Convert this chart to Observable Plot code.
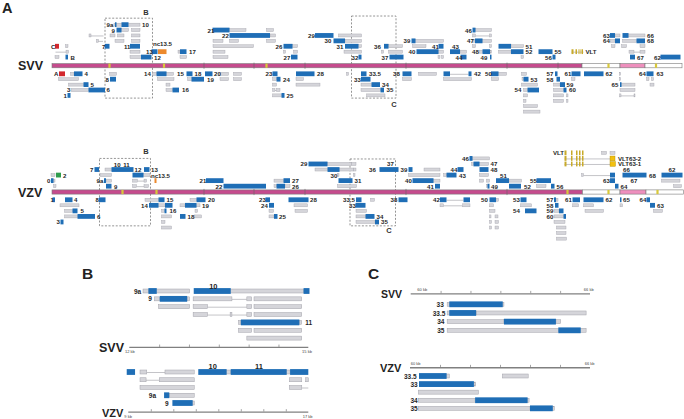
<!DOCTYPE html>
<html><head><meta charset="utf-8">
<script src="https://cdn.jsdelivr.net/npm/d3@7"></script>
<script src="https://cdn.jsdelivr.net/npm/@observablehq/plot@0.6"></script>
<style>
body{margin:0;background:#fff;font-family:"Liberation Sans",Arial,Helvetica,sans-serif;}
#wrap{position:relative;width:684px;height:419px;overflow:hidden;background:#fff;}
#wrap svg{position:absolute;left:0;top:0;background:transparent;}
.t{position:absolute;font-weight:bold;color:#222;line-height:1;transform:translateY(-50%);white-space:nowrap;}
</style></head><body>
<div id="wrap">
<div class="t" style="left:2px;top:8px;font-size:14.5px">A</div>
<div class="t" style="left:18px;top:66px;font-size:12.5px">SVV</div>
<div class="t" style="left:18px;top:192.5px;font-size:12.5px">VZV</div>
<div class="t" style="left:82px;top:274px;font-size:15.5px">B</div>
<div class="t" style="left:368px;top:274px;font-size:15.5px">C</div>
<div class="t" style="left:99px;top:347.5px;font-size:12.5px">SVV</div>
<div class="t" style="left:102px;top:412.5px;font-size:11px">VZV</div>
<div class="t" style="left:381px;top:294px;font-size:10.5px">SVV</div>
<div class="t" style="left:380px;top:367.5px;font-size:11px">VZV</div>
</div>
<script>
// ================= DATA (kb positions, lanes: + above genome, - below) =================
// ---- Panel A : SVV ----
const svvSegments = [[0,106,"U"],[106,113.6,"R"],[113.6,118.6,"I"],[118.6,126,"R"]];
const svvMarks = [11.5,22.4,42.9,111.3,120.8];
const svvTicks = [30.3,40.3,50.5,70.7,90.9,101.1];
const svvBoxes = [[10.6,20.1,8.2,-5.5,"B",18.7,9.3],[59.9,68.8,8.6,-5.5,"C",68.3,-6.6]];
const svvCds = [
 [12.6,12.9,7],[13.9,15.3,7],
 [12.9,13.9,6],[32.1,35.5,6],[84.1,84.7,6],
 [35.5,43.6,5],[52.6,56.3,5],[111.6,112.6,5],[114.1,115.3,5],
 [56.3,58.6,4],[71.9,72.7,4],[84.6,86.1,4],[112.6,113.6,4],[116.9,118.6,4],
 [10.6,11.5,3],[15.6,17.6,3],[46.3,48.1,3],[58.6,61.3,3],[66.4,67.3,3],[77.3,78.3,3],[89.3,91.8,3],
 [19.9,21.1,2],[25.6,26.9,2],[72.9,77.3,2],[79.6,81.6,2],[86.1,87.6,2],[91.8,94.3,2],[97.3,100.1,2],
 [2.7,3.2,1],[17.8,19.9,1],[47.8,49.1,1],[61.3,61.9,1],[67.5,70.3,1],[81.7,82.9,1],[87.6,87.9,1],[100.1,100.7,1],[115.6,116.6,1],[121.7,125.7,1],
 [4.4,6.1,-1],[20.9,22.9,-1],[26.9,28.1,-1],[30.6,32.1,-1],[44.1,45.1,-1],[48.8,52.5,-1],[61.8,62.9,-1],[70.1,71.9,-1],[78.3,79.6,-1],[83.3,83.9,-1],[87.8,89.3,-1],[100.6,101.1,-1],[103.9,105.7,-1],[106.4,110.3,-1],[118.9,120.3,-1],
 [11.6,12.8,-2],[27.9,30.4,-2],[44.9,45.7,-2],[61.8,63.7,-2],[94.3,95.3,-2],[100.9,101.6,-2],
 [6.3,7.3,-3],[63.9,65.6,-3],[101.6,102.6,-3],[113.6,113.9,-3],
 [7.3,10.6,-4],[24.1,25.4,-4],[65.7,66.4,-4],[95.1,97.4,-4],[102.3,102.9,-4],
 [3.1,3.7,-5],[45.9,46.5,-5]
];
const svvTx = [
 [12.4,17.6,7],
 [13.9,15.3,6],[15.9,17.6,6],[35.5,38.8,6],[42.9,44.3,6],[84.7,87.9,6],
 [7.4,7.8,5],[11.6,12.6,5],[13.1,14.4,5],[15.9,17.6,5],[43.6,44.7,5],[57.3,61.9,5],[84.1,84.7,5],[87.5,87.9,5],[112.6,113.6,5],[115.3,118.6,5],
 [8.9,9.3,4],[12.6,14.4,4],[15.9,17.6,4],[32.2,34.2,4],[35.5,37.3,4],[42.9,44.7,4],[58.6,61.9,4],[72.7,78.3,4],[84.1,84.6,4],[86.1,87.9,4],[111.6,112.6,4],[114.1,116.9,4],
 [2.7,3.2,3],[32.2,40.3,3],[48.1,49.1,3],[61.3,61.9,3],[67.3,70.1,3],[72.1,74.8,3],[84.1,84.7,3],[87.5,87.9,3],[91.8,94.3,3],[111.9,112.6,3],[113.9,114.9,3],[117.6,118.6,3],
 [2.8,3.3,2],[15.6,17.6,2],[25.2,25.6,2],[32.2,34.6,2],[46.3,46.7,2],[48.3,49.1,2],[58.4,61.9,2],[65.9,66.3,2],[67.3,70.1,2],[77.3,78.3,2],[81.6,82.9,2],[85.4,86.1,2],[87.6,87.9,2],[89.3,91.8,2],[115.4,116.4,2],[117.6,118.6,2],
 [0.6,1.4,1],[15.6,17.9,1],[25.6,26.9,1],[32.2,35.2,1],[77.2,77.6,1],[77.9,78.3,1],[93.8,94.3,1],
 [3.7,4.4,-1],[11.5,12.9,-1],[20.1,20.9,-1],[22.9,24.3,-1],[33.6,35.3,-1],[36.3,37.9,-1],[58.9,59.3,-1],[73.3,76.9,-1],[89.3,90.9,-1],[93.9,94.9,-1],[113.5,113.7,-1],
 [1.3,5.3,-2],[21.1,24.4,-2],[27.1,28.1,-2],[33.6,35.3,-2],[36.3,37.9,-2],[44.1,44.9,-2],[48.8,50.3,-2],[70.1,71.9,-2],[78.3,83.9,-2],[87.9,89.3,-2],[94.0,94.3,-2],[103.9,104.6,-2],[113.5,113.7,-2],[118.9,119.4,-2],[119.9,120.3,-2],
 [3.3,6.3,-3],[22.8,23.6,-3],[44.1,44.9,-3],[48.8,53.6,-3],[61.8,63.9,-3],[93.9,97.1,-3],[100.3,101.6,-3],[113.9,116.6,-3],[119.6,120.4,-3],
 [3.8,7.3,-4],[22.8,24.1,-4],[44.1,44.6,-4],[44.9,45.6,-4],[61.8,65.7,-4],[94.3,95.1,-4],[100.3,102.3,-4],[113.6,116.6,-4],
 [44.1,45.9,-5],[62.9,66.6,-5],[94.3,95.1,-5],[100.3,102.3,-5],[102.9,103.2,-5],[113.5,113.8,-5],[116.4,116.6,-5],
 [94.3,94.8,-6],[100.3,102.3,-6],[102.9,103.2,-6],
 [94.3,97.1,-7],
 [94.3,97.6,-8]
];
const svvIntrons = [[7.4,10.3,5],[8.9,10.2,4],[0.7,2.8,2],[79.6,83.3,-1],[44.6,44.9,-4],[113.8,116.4,-5],[84.7,87.5,5],[103.9,106.3,2],[116.4,117.6,2]];
const svvSpecial = [[0.6,1.4,3,"ABC"],[1.4,2.6,-1,"ABC"],[21.2,22.9,2,"NC"],
 [103.9,104.3,2,"VLT"],[104.7,105.0,2,"VLT"],[105.3,105.5,2,"VLT"],[105.7,105.9,2,"VLT"],[106.0,106.2,2,"VLT"]];
const svvLabels = [
 ["9a",10.8,7],["10",17.9,7],
 ["9",11.8,6],["21",31.0,6],["46",82.5,6],
 ["22",33.9,5],["29",51.1,5],["63",110.1,5],["66",118.9,5],
 ["30",54.4,4],["39",70.2,4],["47",82.9,4],["64",110.1,4],["68",118.9,4],
 ["nc13.5",20.1,3.55],
 ["C",-0.3,3],["7",9.9,3],["11",14.3,3],["26",44.6,3],["31",56.8,3],["36",64.3,3],["41",75.9,3],["43",79.9,3],["51",94.6,3],
 ["13",18.7,2],["17",27.3,2],["40",71.2,2],["48",83.9,2],["52",94.6,2],["55",100.4,2],["VLT",106.6,2],
 ["B",3.6,1],["12",20.3,1],["27",46.2,1],["32",59.8,1],["37",65.8,1],["44",80.6,1],["49",85.6,1],["56",98.5,1],["67",116.9,1],["62",120.3,1],
 ["A",0.3,-1],["4",6.4,-1],["14",18.3,-1],["15",24.9,-1],["18",28.4,-1],["20",32.3,-1],["23",42.6,-1],["28",52.9,-1],["33.5",63.3,-1],["38",68.1,-1],["42",84.3,-1],["50",86.5,-1],["57",98.8,-1],["61",102.4,-1],["62",110.6,-1],["64",117.3,-1],["63",120.8,-1],
 ["8",10.6,-2],["19",30.9,-2],["24",46.1,-2],["33",60.3,-2],["53",95.6,-2],["58",98.8,-2],
 ["5",7.6,-3],["34",65.9,-3],["59",102.8,-3],["65",111.8,-3],
 ["3",2.9,-4],["6",10.8,-4],["16",25.9,-4],["35",66.8,-4],["54",92.4,-4],["60",103.3,-4],
 ["1",2.2,-5],["25",46.8,-5]
];

// ---- Panel A : VZV ----
const vzvSegments = [[0,106.1,"U"],[106.1,113.6,"R"],[113.6,118.8,"I"],[118.8,126.3,"R"]];
const vzvMarks = [14.1,20.9,103.1,111.3,121.1];
const vzvTicks = [30.3,40.3,50.5,70.7,90.9];
const vzvBoxes = [[9.5,19.7,6.0,-5.7,"B",18.7,7.35],[59.6,68.7,5.9,-5.7,"C",67.3,-6.45]];
const vzvCds = [
 [83.5,84.1,6],
 [51.3,55.1,5],[84.3,85.5,5],
 [8.5,9.4,4],[11.9,16.3,4],[18.4,19.5,4],[55.1,57.5,4],[65.5,69.3,4],[71.3,72.1,4],[81.1,82.3,4],[85.5,87.3,4],
 [16.1,18.3,3],[78.9,80.9,3],[111.6,112.6,3],[114.1,118.9,3],[121.9,126.1,3],
 [-0.2,0.3,2],[10.4,10.8,2],[30.8,34.3,2],[46.3,47.6,2],[57.3,60.1,2],[72.1,76.3,2],[88.8,91.4,2],[96.9,99.8,2],[111.6,112.6,2],
 [10.8,11.9,1],[34.3,42.8,1],[44.9,46.6,1],[76.6,77.6,1],[87.1,87.5,1],[91.4,93.8,1],[99.8,100.5,1],[112.6,113.3,1],
 [0.1,0.6,-1],[2.6,4.1,-1],[9.4,10.7,-1],[21.3,22.5,-1],[28.9,30.7,-1],[42.7,43.6,-1],[47.3,51.3,-1],[60.8,61.9,-1],[69.3,71.1,-1],[77.6,78.9,-1],[82.3,83.6,-1],[87.5,88.8,-1],[93.7,94.9,-1],[100.4,100.8,-1],[104.1,105.6,-1],[106.3,110.3,-1],[113.6,113.9,-1],[118.9,119.6,-1],
 [19.4,21.3,-2],[22.6,24.1,-2],[26.6,28.9,-2],[43.4,44.4,-2],[60.7,62.7,-2],[100.6,101.3,-2],[119.6,120.6,-2],
 [4.1,5.1,-3],[22.5,22.9,-3],[94.6,96.9,-3],[101.4,102.3,-3],
 [5.1,8.6,-4],[25.6,26.7,-4],[44.4,45.1,-4],[62.7,64.5,-4],[102.3,102.8,-4],
 [1.7,2.3,-5],[64.6,65.4,-5]
];
const vzvTx = [
 [109.9,110.9,7],[111.6,112.6,7],
 [84.1,87.5,6],
 [55.1,59.9,5],[59.9,60.8,5],[83.9,84.3,5],[85.5,87.3,5],
 [10.6,11.9,4],[52.6,55.1,4],[57.5,60.3,4],[60.3,60.8,4],[74.4,77.6,4],
 [-0.2,0.6,3],[9.6,11.9,3],[18.3,19.6,3],[57.1,57.4,3],[60.3,60.6,3],[71.3,77.6,3],[78.3,78.9,3],[85.5,87.3,3],[105.9,106.3,3],
 [0.3,0.6,2],[10.8,11.9,2],[16.1,17.1,2],[18.4,18.9,2],[44.4,46.3,2],[76.3,77.6,2],[85.5,86.3,2],[86.9,87.5,2],[91.4,93.9,2],[121.9,125.6,2],
 [0.3,0.8,1],[16.1,16.9,1],[18.4,19.3,1],[44.4,44.9,1],[46.6,47.6,1],[57.1,60.9,1],[86.9,87.1,1],[96.9,98.8,1],[124.3,125.9,1],
 [18.6,21.3,-1],[27.6,28.9,-1],[63.7,64.5,-1],[88.8,89.3,-1],[100.8,101.2,-1],
 [1.6,5.4,-2],[21.3,22.6,-2],[25.6,26.6,-2],[28.9,29.6,-2],[48.4,51.1,-2],[77.6,78.3,-2],[82.1,83.6,-2],[87.5,88.3,-2],[93.7,95.9,-2],[104.1,105.3,-2],[106.3,108.3,-2],[113.6,114.1,-2],
 [2.5,4.1,-3],[21.9,22.5,-3],[28.6,29.1,-3],[43.4,44.3,-3],[48.6,51.1,-3],[60.8,62.9,-3],[87.5,88.6,-3],[100.4,101.4,-3],[106.6,110.3,-3],[120.3,122.1,-3],
 [2.5,5.1,-4],[21.9,23.9,-4],[28.5,29.9,-4],[43.4,44.4,-4],[60.8,62.7,-4],[87.5,87.8,-4],[88.6,89.2,-4],[100.4,102.3,-4],
 [21.9,22.6,-5],[60.8,64.6,-5],[87.5,87.9,-5],[88.6,89.3,-5],[100.4,102.6,-5],
 [21.9,23.9,-6],[87.5,87.9,-6],[88.6,89.3,-6],[100.9,102.8,-6],
 [100.9,102.8,-7],
 [100.9,102.9,-8]
];
const vzvIntrons = [[17.1,18.4,2],[16.9,18.4,1],[78.9,82.3,-1],[78.3,82.1,-2],[102.5,111.6,6],[102.5,111.6,5],[106.3,111.6,3]];
const vzvSpecial = [[0.8,1.8,3,"ORF2"],[20.5,20.9,2,"NC"],
 [102.5,102.9,7,"VLT"],[103.8,104.1,7,"VLT"],[104.8,105.1,7,"VLT"],[105.4,105.7,7,"VLT"],[106.0,106.3,7,"VLT"],
 [102.5,102.9,6,"VLT"],[103.8,104.1,6,"VLT"],[104.8,105.1,6,"VLT"],[105.4,105.7,6,"VLT"],[106.0,106.3,6,"VLT"],
 [102.5,102.9,5,"VLT"],[103.8,104.1,5,"VLT"],[104.8,105.1,5,"VLT"],[105.4,105.7,5,"VLT"],[106.0,106.3,5,"VLT"],
 [111.6,112.6,6,"VLT63"],[111.6,112.7,5,"VLT63"]];
const vzvLabels = [
 ["VLT",100.1,7],
 ["46",81.9,6],["VLT63-2",113.1,6],
 ["29",49.6,5],["37",66.9,5],["47",87.6,5],["VLT63-1",113.1,5],["10",12.26,4.81],["11",14.14,4.81],
 ["7",7.5,4],["12",16.4,4],["13",19.7,4],["36",63.3,4],["39",69.6,4],["44",79.6,4],["48",87.6,4],["66",114.1,4],["62",123.2,4],
 ["2",2.1,3],["nc13.5",19.7,3],["30",55.6,3],["43",81.3,3],["51",89.5,3],["68",119.3,3],
 ["0",-1.1,2],["9a",8.8,2],["21",29.4,2],["27",47.9,2],["31",60.4,2],["40",70.5,2],["55",95.5,2],["63",110.1,2],["67",115.6,2],
 ["9",12.3,1],["22",32.6,1],["26",47.9,1],["41",74.9,1],["49",87.7,1],["52",94.3,1],["56",100.8,1],["64",113.6,1],
 ["1",-0.4,-1],["4",4.3,-1],["8",8.6,-1],["15",22.8,-1],["20",31.1,-1],["23",41.3,-1],["28",51.5,-1],["33.5",58.1,-1],["38",67.6,-1],["42",76.1,-1],["50",85.7,-1],["53",92.1,-1],["57",98.8,-1],["61",102.5,-1],["62",110.6,-1],["65",114.1,-1],["64",117.4,-1],
 ["14",17.7,-2],["19",29.9,-2],["24",41.7,-2],["33",59.3,-2],["58",98.8,-2],["63",120.9,-2],
 ["5",5.6,-3],["16",23.4,-3],["54",92.1,-3],["59",98.8,-3],
 ["6",8.9,-4],["18",27.0,-4],["25",45.3,-4],["34",64.8,-4],["60",98.8,-4],
 ["3",0.8,-5],["35",65.7,-5]
];

// ---- Panel B : ORF9-11 region (rows numbered from top) ----
const bSvvCds = [[12.32,12.46,1],[13.08,13.70,1],[14.92,15.02,1],[12.51,12.97,2],[13.87,14.85,5]];
const bSvvTx = [[12.23,12.32,1],[12.46,13.01,1],[13.70,14.92,1],[12.42,12.51,2],[12.97,13.01,2],[13.07,13.72,2],[13.97,14.05,2],[14.09,14.89,2],
 [12.49,13.01,3],[13.07,13.31,3],[13.97,14.05,3],[14.09,14.89,3],[13.07,13.31,4],[13.69,13.72,4],[13.97,14.05,4],[14.09,14.89,4],
 [13.83,13.87,5],[14.85,14.89,5],[13.83,14.05,6],[14.09,14.89,6],[13.97,14.89,7]];
const bSvvIntrons = [[13.72,13.97,2],[13.31,13.97,3],[13.31,13.97,4]];
const bSvvLabels = [["9a",12.07,1],["9",12.31,2],["11",14.94,5]];
const bSvvHeaders = [["10",13.4,0.36]];
const bSvvTicks = [12.5,13,13.5,14,14.5];
const bSvvAxisLabels = [["12 kb",12],["15 kb",14.97]];

const bVzvCds = [[8.93,9.30,1],[12.11,13.37,1],[13.55,16.04,1],[16.19,17.0,1],[10.59,10.82,4],[10.96,11.86,5]];
const bVzvTx = [[9.52,9.82,1],[10.63,11.93,1],[13.37,13.55,1],[16.04,16.19,1],[9.52,9.79,2],[10.38,11.93,2],[16.16,16.71,2],[16.88,17.0,2],
 [9.52,11.93,3],[16.16,16.71,3],[10.82,11.93,4],[11.86,11.93,5]];
const bVzvIntrons = [[9.82,10.63,1],[9.79,10.38,2],[16.71,17.0,3]];
const bVzvLabels = [["9a",9.89,4],["9",10.61,5]];
const bVzvHeaders = [["10",12.73,0.19],["11",14.78,0.19]];
const bVzvTicks = [10,11,12,13,14,15,16];
const bVzvAxisLabels = [["9 kb",8.97],["17 kb",16.95]];

// ---- Panel C : ORF33-35 region ----
const cSvvCds = [[61.29,63.08,1],[61.29,62.19,2],[63.12,64.86,3],[64.94,65.69,4]];
const cSvvTx = [[61.22,61.29,1],[63.08,63.12,1],[61.22,61.29,2],[62.19,65.87,2],[61.22,63.12,3],[64.86,65.02,3],[61.22,64.94,4],[65.69,65.87,4]];
const cSvvLabels = [["33",60.85,1],["33.5",60.72,2],["34",60.87,3],["35",60.87,4]];
const cSvvTicks = [61,62,63,64,65];
const cSvvAxisLabels = [["60 kb",60.37],["66 kb",65.94]];

const cVzvCds = [[60.3,61.22,1],[60.3,62.13,2],[62.17,63.92,4],[64.0,64.76,5]];
const cVzvTx = [[61.22,61.31,1],[63.08,63.94,1],[62.13,62.19,2],[60.28,62.28,3],[60.28,62.17,4],[63.92,63.97,4],[60.28,64.0,5],[64.76,64.81,5]];
const cVzvLabels = [["33.5",59.78,1],["33",60.0,2],["34",60.0,4],["35",60.0,5]];
const cVzvTicks = [61,62,63,64,65];
const cVzvAxisLabels = [["60 kb",60.17],["66 kb",65.97]];

// ================= RENDERING =================
const W = 684, H = 419;
const FONT = "Liberation Sans, Arial, Helvetica, sans-serif";
const COLORS = {cds:"#1f6eb6", tx:"#d5d5da", txStroke:"#a2a2aa", intron:"#9c9ca3",
  U:"#c54b8d", R:"#ffffff", I:"#ee8fbd", barStroke:"#7b7b7b", mark:"#d8c83a",
  ABC:"#d3282d", ORF2:"#2f9c4d", NC:"#ec8a2e", VLT:"#c8aa2a", VLT63:"#f2c010"};
const wrap = document.getElementById("wrap");

function genomePanel(p) {
  const v = L => L > 0 ? L + p.offA : L < 0 ? L - p.offB : 0;
  const u = px => px / p.spacing;
  const x1 = d => d[0], x2 = d => d[1];
  return Plot.plot({
    width: W, height: H, margin: 0,
    style: {background: "transparent", overflow: "visible"},
    color: {type: "identity"},
    x: {domain: [0, 126], range: [52, 682], axis: null},
    y: {domain: [0, 1], range: [p.barY, p.barY - p.spacing], axis: null},
    marks: [
      Plot.rect(p.boxes, {x1, x2, y1: d => v(d[2]), y2: d => v(d[3]), fill: "none", stroke: "#7a7a7a", strokeWidth: 0.8, strokeDasharray: "2,1.6"}),
      Plot.text(p.boxes, {x: d => d[5], y: d => v(d[6]), text: d => d[4], textAnchor: "middle", fontSize: 7.5, fontWeight: "bold", fontFamily: FONT, fill: "#333"}),
      Plot.ruleY(p.introns, {x1, x2, y: d => v(d[2]), stroke: COLORS.intron, strokeWidth: 0.6}),
      Plot.rect(p.tx, {x1, x2, y1: d => v(d[2]) - u(1.5), y2: d => v(d[2]) + u(1.5), fill: COLORS.tx, stroke: COLORS.txStroke, strokeWidth: 0.4}),
      Plot.rect(p.cds, {x1, x2, y1: d => v(d[2]) - u(2.4), y2: d => v(d[2]) + u(2.4), fill: COLORS.cds}),
      Plot.rect(p.special, {x1, x2, y1: d => v(d[2]) - u(2.4), y2: d => v(d[2]) + u(2.4), fill: d => COLORS[d[3]], stroke: d => d[3] === "VLT63" ? "#b08a00" : "none", strokeWidth: 0.4}),
      Plot.rect(p.segments, {x1, x2, y1: -u(2.1), y2: u(2.1), fill: d => COLORS[d[2]], stroke: COLORS.barStroke, strokeWidth: 0.6}),
      Plot.ruleX(p.ticks, {x: d => d, y1: -u(3.1), y2: u(3.1), stroke: "#666", strokeWidth: 0.6}),
      Plot.rect(p.marks, {x1: d => d - 0.22, x2: d => d + 0.22, y1: -u(2.1), y2: u(2.1), fill: COLORS.mark}),
      Plot.text(p.labels, {x: d => d[1], y: d => v(d[2]), text: d => d[0], textAnchor: "start", fontSize: 6.1, fontWeight: "bold", fontFamily: FONT, fill: "#262626"})
    ]
  });
}

function detailPanel(p) {
  const u = px => px / p.spacing;
  const x1 = d => d[0], x2 = d => d[1];
  return Plot.plot({
    width: W, height: H, margin: 0,
    style: {background: "transparent", overflow: "visible"},
    x: {domain: p.domain, range: p.range, axis: null},
    y: {domain: [1, 2], range: [p.rowY, p.rowY + p.spacing], axis: null},
    marks: [
      Plot.ruleY([p.axisRow], {x1: () => p.domain[0], x2: () => p.domain[1], stroke: "#808080", strokeWidth: 1.3}),
      Plot.ruleX(p.ticks, {x: d => d, y1: () => p.axisRow, y2: () => p.axisRow - u(2.4), stroke: "#808080", strokeWidth: 0.7}),
      Plot.text(p.axisLabels, {x: d => d[1], y: () => p.labelRow, text: d => d[0], textAnchor: "middle", fontSize: 4, fontFamily: FONT, fill: "#444"}),
      Plot.ruleY(p.introns || [], {x1, x2, y: d => d[2], stroke: COLORS.intron, strokeWidth: 0.6}),
      Plot.rect(p.tx, {x1, x2, y1: d => d[2] - u(2), y2: d => d[2] + u(2), fill: COLORS.tx, stroke: COLORS.txStroke, strokeWidth: 0.5}),
      Plot.rect(p.cds, {x1, x2, y1: d => d[2] - u(2.9), y2: d => d[2] + u(2.9), fill: COLORS.cds}),
      Plot.text(p.labels, {x: d => d[1], y: d => d[2], text: d => d[0], textAnchor: "start", fontSize: 6.5, fontWeight: "bold", fontFamily: FONT, fill: "#262626"}),
      Plot.text(p.headers || [], {x: d => d[1], y: d => d[2], text: d => d[0], textAnchor: "middle", fontSize: 7.5, fontWeight: "bold", fontFamily: FONT, fill: "#262626"})
    ]
  });
}

const panels = [
  genomePanel({barY: 65.7, spacing: 5.4, offA: 0.6, offB: 0.5, segments: svvSegments, marks: svvMarks, ticks: svvTicks, boxes: svvBoxes,
    cds: svvCds, tx: svvTx, introns: svvIntrons, special: svvSpecial, labels: svvLabels}),
  genomePanel({barY: 192, spacing: 5.55, offA: 0.05, offB: 0.4, segments: vzvSegments, marks: vzvMarks, ticks: vzvTicks, boxes: vzvBoxes,
    cds: vzvCds, tx: vzvTx, introns: vzvIntrons, special: vzvSpecial, labels: vzvLabels}),
  detailPanel({domain: [12, 15], range: [129.3, 308.3], rowY: 291, spacing: 7.85, axisRow: 8.13, labelRow: 8.73,
    cds: bSvvCds, tx: bSvvTx, introns: bSvvIntrons, labels: bSvvLabels, headers: bSvvHeaders, ticks: bSvvTicks, axisLabels: bSvvAxisLabels}),
  detailPanel({domain: [9, 17], range: [128.3, 308.3], rowY: 372, spacing: 7.75, axisRow: 6.1, labelRow: 6.72,
    cds: bVzvCds, tx: bVzvTx, introns: bVzvIntrons, labels: bVzvLabels, headers: bVzvHeaders, ticks: bVzvTicks, axisLabels: bVzvAxisLabels}),
  detailPanel({domain: [60, 66], range: [410.7, 590], rowY: 304.3, spacing: 8.67, axisRow: -0.27, labelRow: -0.73,
    cds: cSvvCds, tx: cSvvTx, labels: cSvvLabels, ticks: cSvvTicks, axisLabels: cSvvAxisLabels}),
  detailPanel({domain: [60, 66], range: [410, 590], rowY: 376, spacing: 8.08, axisRow: -0.08, labelRow: -0.57,
    cds: cVzvCds, tx: cVzvTx, labels: cVzvLabels, ticks: cVzvTicks, axisLabels: cVzvAxisLabels})
];
panels.forEach(svg => wrap.appendChild(svg));
</script>
</body></html>
